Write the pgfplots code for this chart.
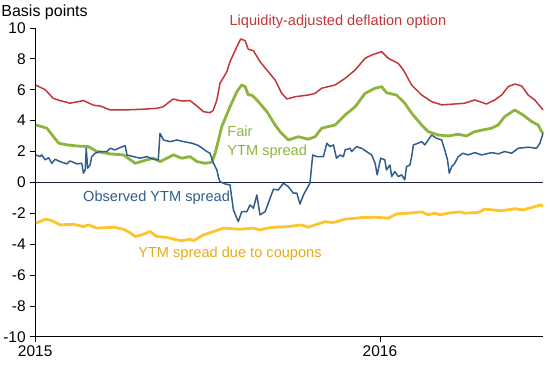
\documentclass[border=0pt]{standalone}
\usepackage{pgfplots}
\pgfplotsset{compat=1.18}
\usepackage{fontspec}
\setmainfont{Liberation Sans}
\definecolor{cred}{RGB}{194,54,56}
\definecolor{cgreen}{RGB}{141,180,62}
\definecolor{cblue}{RGB}{47,94,140}
\definecolor{cyellow}{RGB}{252,196,45}
\definecolor{cyeltext}{RGB}{232,170,20}
\definecolor{czero}{RGB}{25,35,65}
\begin{document}
\begin{tikzpicture}
\begin{axis}[
  scale only axis, width=508pt, height=309pt,
  xmin=2015, xmax=2016.473, ymin=-10, ymax=10,
  axis lines=left, axis line style={-, black, line width=0.8pt},
  xtick={2015,2016}, xticklabels={2015,2016},
  ytick={-10,-8,-6,-4,-2,0,2,4,6,8,10},
  yticklabels={-10,-8,-6,-4,-2,0,2,4,6,8,10},
  tick align=outside, major tick length=5pt,
  tick style={black, line width=0.8pt},
  ticklabel style={font=\fontsize{15.5}{17}\selectfont},
  yticklabel style={xshift=-1pt},
  clip=false,
]
\addplot[czero, line width=0.8pt] coordinates {(2015,0) (2016.473,0)};
% Yellow: YTM spread due to coupons
\addplot[cyellow, line width=2.8pt, line join=round] coordinates {
(2015.002,-2.64) (2015.029,-2.38) (2015.048,-2.47) (2015.072,-2.75) (2015.111,-2.71)
(2015.140,-2.86) (2015.154,-2.75) (2015.179,-2.96) (2015.227,-2.90) (2015.256,-3.03)
(2015.275,-3.25) (2015.290,-3.51) (2015.309,-3.40) (2015.333,-3.18) (2015.353,-3.51)
(2015.382,-3.55) (2015.401,-3.68) (2015.425,-3.77) (2015.449,-3.68) (2015.459,-3.77)
(2015.488,-3.40) (2015.517,-3.18) (2015.546,-2.96) (2015.594,-3.03) (2015.633,-2.96)
(2015.652,-3.07) (2015.681,-2.93) (2015.696,-2.90) (2015.734,-2.86) (2015.773,-2.75)
(2015.792,-2.90) (2015.841,-2.54) (2015.865,-2.60) (2015.899,-2.38) (2015.947,-2.28)
(2015.986,-2.25) (2016.024,-2.32) (2016.048,-2.04) (2016.082,-1.99) (2016.121,-1.91)
(2016.140,-2.10) (2016.159,-1.99) (2016.174,-2.10) (2016.198,-1.99) (2016.232,-1.91)
(2016.246,-1.99) (2016.285,-1.95) (2016.304,-1.73) (2016.353,-1.84) (2016.391,-1.70)
(2016.415,-1.78) (2016.449,-1.57) (2016.464,-1.46) (2016.473,-1.52)
};
% Red: liquidity-adjusted deflation option
\addplot[cred, line width=1.5pt, line join=round] coordinates {
(2015.002,6.30) (2015.029,6.00) (2015.052,5.45) (2015.072,5.30) (2015.101,5.13)
(2015.140,5.30) (2015.169,5.00) (2015.188,4.95) (2015.217,4.70) (2015.266,4.70)
(2015.314,4.74) (2015.353,4.80) (2015.371,4.90) (2015.400,5.40) (2015.425,5.27)
(2015.449,5.30) (2015.469,4.95) (2015.488,4.58) (2015.507,4.52) (2015.516,4.65)
(2015.527,5.34) (2015.536,6.42) (2015.556,7.17) (2015.565,7.82) (2015.585,8.79)
(2015.596,9.29) (2015.609,9.18) (2015.618,8.62) (2015.633,8.53) (2015.652,7.82)
(2015.672,7.28) (2015.696,6.63) (2015.715,5.77) (2015.730,5.40) (2015.754,5.55)
(2015.792,5.66) (2015.812,5.77) (2015.831,6.10) (2015.870,6.31) (2015.899,6.74)
(2015.928,7.28) (2015.957,8.04) (2015.976,8.25) (2016.005,8.47) (2016.024,8.04)
(2016.053,7.71) (2016.068,7.28) (2016.092,6.31) (2016.121,5.66) (2016.150,5.23)
(2016.179,5.02) (2016.217,5.08) (2016.246,5.13) (2016.275,5.34) (2016.309,5.08)
(2016.333,5.34) (2016.353,5.66) (2016.372,6.20) (2016.391,6.37) (2016.411,6.25)
(2016.430,5.66) (2016.449,5.34) (2016.473,4.70)
};
% Green: fair YTM spread
\addplot[cgreen, line width=2.8pt, line join=round] coordinates {
(2015.002,3.72) (2015.034,3.51) (2015.053,2.96) (2015.068,2.54) (2015.092,2.43)
(2015.121,2.36) (2015.154,2.32) (2015.179,2.00) (2015.217,1.85) (2015.256,1.78)
(2015.290,1.24) (2015.324,1.46) (2015.343,1.57) (2015.362,1.35) (2015.401,1.78)
(2015.425,1.57) (2015.449,1.67) (2015.469,1.35) (2015.493,1.24) (2015.512,1.31)
(2015.522,1.89) (2015.541,3.61) (2015.565,4.90) (2015.585,5.88) (2015.599,6.31)
(2015.609,6.20) (2015.618,5.66) (2015.628,5.66) (2015.643,5.34) (2015.672,4.58)
(2015.696,3.72) (2015.710,3.29) (2015.734,2.75) (2015.763,2.96) (2015.792,2.80)
(2015.812,2.96) (2015.831,3.51) (2015.870,3.72) (2015.899,4.37) (2015.928,4.90)
(2015.957,5.77) (2015.986,6.10) (2016.005,6.20) (2016.019,5.81) (2016.048,5.66)
(2016.072,5.13) (2016.092,4.48) (2016.121,3.72) (2016.140,3.29) (2016.169,3.07)
(2016.198,3.01) (2016.227,3.12) (2016.251,3.01) (2016.275,3.29) (2016.299,3.40)
(2016.324,3.51) (2016.343,3.72) (2016.362,4.26) (2016.391,4.69) (2016.415,4.37)
(2016.440,3.94) (2016.459,3.72) (2016.469,3.29) (2016.473,3.18)
};
% Blue: observed YTM spread
\addplot[cblue, line width=1.5pt, line join=round] coordinates {
(2015.002,1.78) (2015.014,1.67) (2015.019,1.78) (2015.029,1.46) (2015.039,1.60)
(2015.048,1.24) (2015.058,1.50) (2015.072,1.35) (2015.092,1.20) (2015.101,1.39)
(2015.121,1.20) (2015.135,1.24) (2015.140,0.60) (2015.145,0.81) (2015.148,2.21)
(2015.152,0.92) (2015.159,1.13) (2015.164,1.67) (2015.174,1.89) (2015.188,2.00)
(2015.208,2.00) (2015.217,2.21) (2015.232,2.10) (2015.241,2.21) (2015.261,2.38)
(2015.266,1.78) (2015.285,1.67) (2015.304,1.57) (2015.324,1.67) (2015.343,1.50)
(2015.357,1.46) (2015.362,3.18) (2015.372,2.75) (2015.391,2.64) (2015.411,2.75)
(2015.430,2.64) (2015.454,2.54) (2015.469,2.43) (2015.478,2.32) (2015.498,2.00)
(2015.507,1.89) (2015.517,1.24) (2015.527,0.81) (2015.531,0.38) (2015.536,0.05)
(2015.551,-0.10) (2015.565,-0.16) (2015.575,-1.78) (2015.589,-2.54) (2015.599,-1.89)
(2015.614,-1.89) (2015.623,-1.46) (2015.633,-1.67) (2015.643,-0.81) (2015.652,-2.10)
(2015.667,-1.89) (2015.676,-1.35) (2015.691,-0.44) (2015.705,-0.49) (2015.720,-0.05)
(2015.734,-0.27) (2015.749,-0.70) (2015.759,-0.70) (2015.768,-1.40) (2015.778,-0.81)
(2015.797,-0.05) (2015.805,1.78) (2015.817,1.67) (2015.836,1.67) (2015.846,2.54)
(2015.855,2.32) (2015.865,2.43) (2015.874,1.57) (2015.884,1.78) (2015.894,1.67)
(2015.899,2.10) (2015.913,2.21) (2015.918,2.00) (2015.932,2.32) (2015.947,2.21)
(2015.961,2.00) (2015.976,1.78) (2015.986,1.24) (2015.992,0.49) (2016.002,1.57)
(2016.014,1.46) (2016.019,0.81) (2016.029,1.13) (2016.034,0.38) (2016.043,0.70)
(2016.053,0.38) (2016.063,0.49) (2016.072,0.16) (2016.077,1.02) (2016.087,1.13)
(2016.092,1.67) (2016.097,2.43) (2016.111,2.54) (2016.121,2.64) (2016.130,2.43)
(2016.140,2.75) (2016.150,3.07) (2016.164,2.86) (2016.179,2.75) (2016.188,2.10)
(2016.196,1.46) (2016.201,0.60) (2016.208,1.02) (2016.217,1.24) (2016.227,1.67)
(2016.241,1.89) (2016.256,1.78) (2016.275,1.93) (2016.295,1.78) (2016.324,1.93)
(2016.343,1.85) (2016.362,2.00) (2016.382,1.89) (2016.401,2.21) (2016.430,2.28)
(2016.454,2.21) (2016.464,2.54) (2016.473,3.18)
};
\node[cred, font=\fontsize{14.6}{17}\selectfont] at (axis cs:2015.878,10.39) {Liquidity-adjusted deflation option};
\node[cgreen, anchor=west, align=left, inner sep=0pt, font=\fontsize{14.6}{19}\selectfont] at (axis cs:2015.557,2.59) {Fair\\YTM spread};
\node[cblue, font=\fontsize{14.6}{17}\selectfont] at (axis cs:2015.352,-1.0) {Observed YTM spread};
\node[cyeltext, font=\fontsize{14.6}{17}\selectfont] at (axis cs:2015.565,-4.63) {YTM spread due to coupons};
\node[anchor=west, inner sep=0pt, font=\fontsize{16}{18}\selectfont] at ([xshift=-34pt,yshift=16pt]rel axis cs:0,1) {Basis points};
\coordinate (bl) at (rel axis cs:0,0);
\end{axis}
\path (bl) ++(-35pt,-28pt) rectangle ++(550pt,365pt);
\end{tikzpicture}
\end{document}
